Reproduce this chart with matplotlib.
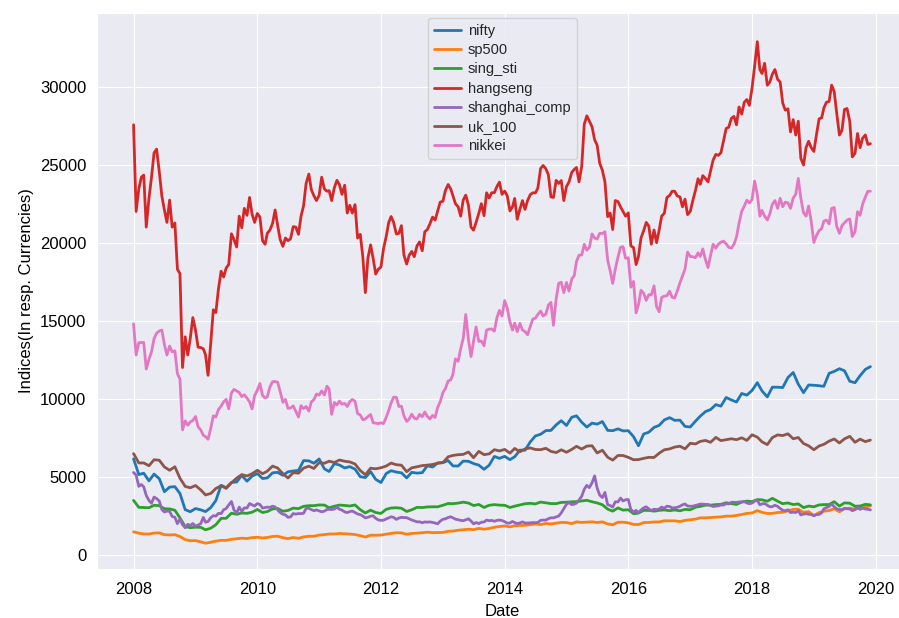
import numpy as np
import pandas as pd
import matplotlib
matplotlib.use('Agg')
import matplotlib.pyplot as plt
import matplotlib.dates as mdates
import seaborn as sns

# levels: value at the start of each month (Jan 2008 .. Dec 2019)
dates = pd.date_range('2008-01-01', periods=144, freq='MS')
# the choppier indices also get a mid-month reading (16th, Jan 2008 .. Nov 2019)
mid_dates = dates[:-1] + pd.Timedelta(days=15)

nifty = [6144, 5137, 5224, 4735, 5166, 4870, 4040, 4333, 4360, 3921, 2885, 2755,
         2959, 2875, 2764, 3021, 3474, 4449, 4291, 4636, 4662, 5084, 4712, 5033,
         5201, 4882, 4922, 5249, 5278, 5087, 5313, 5368, 5402, 6030, 6018, 5863,
         6135, 5506, 5333, 5834, 5749, 5560, 5647, 5482, 5001, 4943, 5327, 4832,
         4624, 5199, 5385, 5296, 5248, 4924, 5279, 5229, 5259, 5703, 5620, 5880,
         5905, 6035, 5693, 5683, 6000, 5986, 5842, 5742, 5472, 5735, 6299, 6176,
         6304, 6090, 6277, 6704, 6696, 7230, 7611, 7721, 7954, 7965, 8322, 8588,
         8283, 8809, 8902, 8491, 8182, 8434, 8369, 8533, 7971, 7949, 8066, 7935,
         7946, 7564, 6987, 7738, 7850, 8160, 8288, 8639, 8786, 8611, 8626, 8224,
         8186, 8561, 8880, 9174, 9304, 9621, 9521, 10077, 9918, 9789, 10335, 10227,
         10531, 11028, 10493, 10114, 10739, 10736, 10714, 11357, 11681, 10930, 10387, 10877,
         10863, 10831, 10793, 11624, 11748, 11923, 11789, 11118, 11023, 11474, 11877, 12056]

sp500 = [1468, 1379, 1331, 1323, 1386, 1400, 1280, 1267, 1283, 1166, 969, 896,
         903, 826, 735, 798, 873, 919, 919, 987, 1021, 1057, 1036, 1096,
         1115, 1074, 1104, 1169, 1187, 1089, 1031, 1102, 1049, 1141, 1183, 1181,
         1258, 1286, 1327, 1326, 1364, 1345, 1321, 1292, 1219, 1131, 1253, 1247,
         1258, 1312, 1366, 1408, 1398, 1310, 1362, 1379, 1407, 1441, 1412, 1416,
         1426, 1498, 1515, 1569, 1598, 1631, 1606, 1686, 1633, 1682, 1757, 1806,
         1848, 1783, 1859, 1872, 1884, 1924, 1960, 1931, 2003, 1972, 2018, 2068,
         2059, 1995, 2105, 2068, 2086, 2107, 2063, 2104, 1972, 1920, 2079, 2080,
         2044, 1940, 1932, 2060, 2065, 2097, 2099, 2174, 2171, 2168, 2126, 2199,
         2239, 2279, 2364, 2363, 2384, 2412, 2423, 2470, 2472, 2519, 2575, 2648,
         2674, 2824, 2714, 2641, 2648, 2705, 2718, 2816, 2902, 2914, 2712, 2760,
         2507, 2704, 2784, 2834, 2946, 2752, 2942, 2980, 2926, 2977, 3038, 3141]

sing_sti = [3482, 3034, 3026, 3008, 3173, 3141, 2948, 2935, 2847, 2359, 1794, 1733,
            1762, 1753, 1595, 1700, 1921, 2329, 2333, 2659, 2593, 2673, 2651, 2723,
            2898, 2704, 2766, 2934, 2964, 2787, 2836, 2987, 2950, 3098, 3143, 3143,
            3190, 3180, 3010, 3106, 3180, 3160, 3120, 3189, 2885, 2675, 2855, 2703,
            2646, 2906, 2994, 3010, 2979, 2771, 2878, 3036, 3022, 3060, 3072, 3069,
            3167, 3283, 3270, 3308, 3369, 3311, 3150, 3221, 3028, 3168, 3210, 3176,
            3167, 3027, 3111, 3189, 3265, 3295, 3255, 3374, 3327, 3277, 3274, 3351,
            3365, 3391, 3402, 3447, 3487, 3392, 3317, 3203, 2921, 2791, 2998, 2856,
            2883, 2629, 2667, 2841, 2838, 2791, 2841, 2869, 2820, 2869, 2813, 2905,
            2881, 3047, 3097, 3175, 3175, 3211, 3226, 3330, 3277, 3219, 3374, 3434,
            3403, 3534, 3517, 3428, 3613, 3428, 3269, 3319, 3213, 3257, 3018, 3118,
            3069, 3190, 3212, 3213, 3400, 3117, 3321, 3301, 3107, 3120, 3230, 3194]

hangseng = [27560, 23456, 24332, 22849, 25755, 24533, 22102, 22731, 21262, 18016, 13969, 13888,
            14387, 13278, 12812, 13576, 15521, 18171, 18379, 20573, 19724, 20955, 21753, 21822,
            21873, 20122, 20609, 21239, 21108, 19765, 20129, 21030, 20536, 22359, 24400, 23008,
            23035, 23447, 23338, 23528, 23720, 23684, 22398, 22440, 20535, 16800, 19864, 17989,
            18434, 20390, 21680, 20556, 21094, 18630, 19441, 19796, 19482, 20840, 21642, 22030,
            22657, 23730, 23020, 22300, 22737, 22392, 20803, 21883, 21731, 22860, 23206, 23881,
            23306, 22035, 22837, 22151, 22134, 23082, 23191, 24757, 24742, 22933, 23998, 23987,
            23605, 24507, 24823, 24901, 28133, 27424, 26250, 24636, 21671, 20846, 22640, 21996,
            21914, 19683, 19112, 20777, 21067, 20815, 20794, 21891, 23023, 23297, 22935, 22790,
            22001, 23361, 23741, 24112, 24615, 25661, 25765, 27324, 27970, 27554, 28246, 29177,
            29919, 32887, 30845, 30093, 30808, 30469, 28955, 28583, 27889, 27789, 24980, 26507,
            25846, 27942, 28633, 29051, 29699, 26901, 28543, 27778, 25725, 26092, 26907, 26346]

hangseng_mid = [22000, 24200, 21000, 24200, 26000, 23000, 21300, 21000, 18300, 12000, 12800, 15200,
                13300, 13200, 11500, 15700, 17000, 17800, 18600, 20200, 21700, 22200, 22900, 21300,
                21650, 19900, 20800, 22100, 20200, 20300, 20250, 21000, 21700, 23800, 23400, 22700,
                24200, 23300, 22700, 24000, 23100, 21900, 21900, 20300, 19100, 19000, 19000, 18300,
                19600, 21300, 21300, 20600, 19200, 19200, 19100, 20050, 20700, 21200, 21450, 22600,
                23350, 23450, 22500, 21700, 23050, 21000, 21300, 22500, 23200, 23200, 23600, 23100,
                23000, 22300, 21500, 22700, 22700, 23200, 23500, 24950, 24350, 22900, 23800, 22700,
                23900, 24700, 23900, 27600, 27800, 26600, 25100, 23900, 21900, 22700, 22300, 21700,
                19800, 18600, 20300, 21300, 19900, 20000, 21700, 22900, 23300, 23000, 22300, 21800,
                22700, 24100, 24300, 23900, 25300, 25600, 26500, 27400, 28100, 28700, 29000, 28800,
                31300, 31100, 31500, 30300, 31100, 30300, 28500, 27100, 26900, 25400, 26100, 26100,
                26900, 28000, 29000, 30100, 28300, 27200, 28600, 25500, 27000, 26700, 26300]

shanghai_comp = [5272, 4383, 4349, 3473, 3693, 3433, 2736, 2776, 2397, 2293, 1729, 1871,
                 1821, 1991, 2082, 2374, 2477, 2633, 2959, 3412, 2667, 2779, 2996, 3195,
                 3277, 2989, 3051, 3110, 2871, 2592, 2398, 2638, 2639, 2656, 2979, 2820,
                 2808, 2791, 2905, 2928, 2911, 2743, 2762, 2701, 2568, 2359, 2469, 2333,
                 2199, 2292, 2428, 2263, 2396, 2373, 2225, 2103, 2047, 2086, 2069, 1980,
                 2269, 2385, 2366, 2237, 2178, 2301, 1979, 1994, 2098, 2175, 2141, 2221,
                 2116, 2033, 2056, 2033, 2026, 2039, 2048, 2202, 2217, 2364, 2420, 2683,
                 3235, 3210, 3310, 3748, 4442, 4612, 4277, 3664, 3206, 3053, 3383, 3445,
                 3539, 2738, 2688, 3004, 2938, 2917, 2930, 2979, 3085, 3005, 3100, 3250,
                 3104, 3159, 3242, 3223, 3155, 3117, 3192, 3273, 3361, 3349, 3393, 3317,
                 3307, 3481, 3259, 3169, 3082, 3095, 2847, 2876, 2725, 2821, 2603, 2588,
                 2494, 2585, 2941, 3091, 3078, 2899, 2979, 2933, 2886, 2905, 2929, 2872]

shanghai_comp_mid = [5100, 4500, 3800, 3300, 3600, 2900, 2800, 2450, 1990, 1930, 1950, 2000,
                     1900, 2390, 2130, 2500, 2650, 2880, 3190, 2870, 3050, 3000, 3280, 3120,
                     3220, 3020, 3030, 3060, 2700, 2550, 2420, 2600, 2630, 2970, 2890, 2870,
                     2750, 2900, 2900, 3050, 2860, 2700, 2800, 2610, 2480, 2400, 2490, 2230,
                     2210, 2360, 2390, 2350, 2380, 2300, 2170, 2110, 2100, 2100, 2030, 2150,
                     2300, 2430, 2280, 2200, 2240, 2160, 2060, 2080, 2220, 2200, 2200, 2190,
                     2020, 2130, 2000, 2105, 2030, 2060, 2070, 2220, 2310, 2360, 2480, 2950,
                     3350, 3240, 3500, 4200, 4300, 5050, 3820, 3990, 3150, 3390, 3630, 3520,
                     2900, 2840, 2870, 3070, 2830, 2890, 3050, 3110, 3000, 3040, 3200, 3120,
                     3110, 3210, 3240, 3220, 3090, 3130, 3180, 3250, 3360, 3380, 3400, 3270,
                     3440, 3200, 3280, 3070, 3170, 2960, 2810, 2700, 2700, 2550, 2630, 2580,
                     2570, 2680, 3020, 3250, 2940, 2890, 2940, 2820, 3030, 2980, 2910]

uk_100 = [6480, 5880, 5884, 5702, 6087, 6054, 5626, 5412, 5637, 4902, 4377, 4288,
          4434, 4150, 3830, 3926, 4244, 4418, 4249, 4608, 4909, 5134, 5045, 5191,
          5413, 5189, 5355, 5680, 5553, 5188, 4917, 5258, 5225, 5549, 5675, 5528,
          5900, 5863, 5994, 5909, 6070, 5990, 5946, 5815, 5395, 5128, 5544, 5505,
          5572, 5682, 5872, 5768, 5738, 5321, 5571, 5635, 5711, 5742, 5783, 5867,
          5898, 6277, 6361, 6412, 6430, 6583, 6215, 6621, 6413, 6462, 6731, 6651,
          6749, 6510, 6810, 6598, 6780, 6845, 6744, 6730, 6820, 6623, 6546, 6723,
          6566, 6749, 6947, 6773, 6961, 6984, 6521, 6696, 6248, 6062, 6361, 6356,
          6242, 6084, 6097, 6175, 6242, 6231, 6504, 6724, 6782, 6899, 6954, 6784,
          7143, 7099, 7263, 7323, 7204, 7520, 7313, 7372, 7431, 7373, 7493, 7327,
          7688, 7534, 7232, 7057, 7509, 7678, 7637, 7749, 7432, 7510, 7128, 6980,
          6728, 6969, 7075, 7279, 7418, 7162, 7426, 7587, 7207, 7408, 7248, 7347]

nikkei = [14800, 13592, 13603, 12526, 13850, 14339, 13481, 13377, 13073, 11260, 8577, 8512,
          8860, 7994, 7568, 8110, 8828, 9523, 9958, 10357, 10493, 10133, 10035, 9346,
          10546, 10198, 10126, 11090, 11057, 9769, 9383, 9537, 8824, 9369, 9202, 9937,
          10229, 10238, 10624, 9755, 9850, 9694, 9816, 9833, 8955, 8700, 8988, 8435,
          8455, 8803, 9723, 10084, 9521, 8543, 9007, 8695, 8840, 8870, 8928, 9446,
          10395, 11139, 11559, 12398, 13861, 13775, 13677, 13668, 13389, 14456, 14328, 15662,
          16291, 14915, 14841, 14828, 14304, 14632, 15162, 15621, 15425, 16174, 16414, 17460,
          17451, 17674, 18798, 19207, 19520, 20563, 20236, 20585, 18890, 17388, 19083, 19747,
          19034, 17518, 16027, 16759, 16666, 17235, 15576, 16569, 16887, 16450, 17425, 18308,
          19114, 19041, 19119, 18909, 19197, 19651, 20033, 19925, 19646, 20356, 22012, 22725,
          22765, 23098, 22068, 21454, 22468, 22202, 22305, 22554, 22865, 24120, 21920, 22351,
          20015, 20773, 21385, 21206, 22259, 20601, 21276, 21522, 20704, 21756, 22927, 23294]

nikkei_mid = [12800, 13600, 11900, 13000, 14200, 14400, 12800, 13000, 11600, 8000, 8300, 8600,
              8200, 7650, 7400, 8900, 9300, 9800, 9350, 10600, 10400, 10250, 9800, 10200,
              10980, 10050, 10750, 11100, 10450, 9950, 9400, 9200, 9550, 9500, 9800, 10300,
              10500, 10800, 9000, 9600, 9650, 9500, 9950, 9050, 8650, 8850, 8450, 8400,
              8400, 9250, 10100, 9500, 8900, 8700, 8750, 9000, 9150, 8700, 8800, 9800,
              10650, 11200, 12550, 13200, 15400, 12700, 14600, 13700, 14400, 14470, 15200, 15300,
              15800, 14400, 14300, 14400, 14100, 15100, 15400, 15300, 16000, 14700, 17400, 16800,
              16900, 17900, 19200, 19900, 19700, 20300, 20600, 20700, 18200, 18300, 19700, 19000,
              17150, 15500, 16950, 16300, 16650, 15900, 16500, 16600, 16500, 16900, 17860, 19400,
              19100, 19350, 19600, 18400, 19900, 19900, 20100, 19700, 19900, 21250, 22350, 22550,
              23950, 21700, 21700, 21850, 22700, 22850, 22600, 22200, 23100, 22850, 21700, 21400,
              20450, 20900, 21450, 22200, 21050, 21100, 21450, 20400, 21990, 22470, 23300]


def with_mid(starts, mids):
    # month-start and mid-month readings in date order
    x, y = [], []
    for i in range(len(starts)):
        x.append(dates[i])
        y.append(starts[i])
        if i < len(mids):
            x.append(mid_dates[i])
            y.append(mids[i])
    return x, y


names = ['nifty', 'sp500', 'sing_sti', 'hangseng', 'shanghai_comp', 'uk_100', 'nikkei']
series = [(dates, nifty),
          (dates, sp500),
          (dates, sing_sti),
          with_mid(hangseng, hangseng_mid),
          with_mid(shanghai_comp, shanghai_comp_mid),
          (dates, uk_100),
          with_mid(nikkei, nikkei_mid)]

sns.set_style('darkgrid')
plt.rcParams['font.family'] = ['Liberation Sans', 'DejaVu Sans']

fig = plt.figure(figsize=(8.99, 6.18), dpi=100)
ax = fig.add_axes([97 / 899, 49 / 618, 811 / 899, 556 / 618])

for name, (x, y) in zip(names, series):
    ax.plot(x, y, label=name, linewidth=2.0)

ax.set_xlim(pd.Timestamp('2007-05-30'), pd.Timestamp('2020-07-10'))
ax.set_ylim(-917, 34724)
ax.xaxis.set_major_locator(mdates.YearLocator(2))
ax.xaxis.set_major_formatter(mdates.DateFormatter('%Y'))
ax.tick_params(axis='x', labelsize=12, pad=5.5, colors='black')
ax.tick_params(axis='y', labelsize=12, pad=4.3, colors='black')

ax.set_xlabel('Date', fontsize=12, color='black', labelpad=5.5)
ax.set_ylabel('Indices(In resp. Currencies)', fontsize=12, color='black')

ax.legend(loc='upper center', fontsize=10.5, labelspacing=0.36,
          handlelength=1.9, handletextpad=0.45, borderaxespad=0.35)

fig.savefig('out.png', dpi=100)
